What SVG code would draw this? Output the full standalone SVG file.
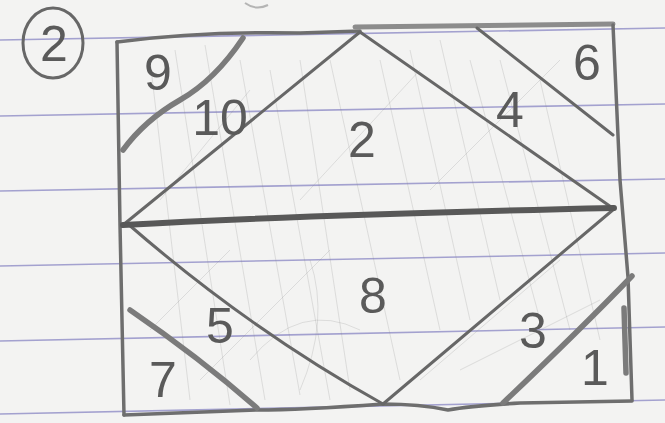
<svg xmlns="http://www.w3.org/2000/svg" width="665" height="423" viewBox="0 0 665 423">
<style>
.rule{stroke:#a3a1cf;stroke-width:1.6;fill:none}
.hatch{stroke:#8a8a8a;stroke-width:1;fill:none;opacity:.22}
.pen{stroke:#676767;stroke-width:3;fill:none;stroke-linecap:round;stroke-linejoin:round}
.edge{stroke:#6e6e6e;stroke-width:3.5;fill:none;stroke-linecap:round;stroke-linejoin:round}
.thick{stroke:#7b7b7b;stroke-width:5.5;fill:none;stroke-linecap:round}
.mid{stroke:#585858;stroke-width:6;fill:none;stroke-linecap:round}
.num{font-family:"Liberation Sans",Arial,sans-serif;font-size:50px;fill:#5a5a5a;text-anchor:middle}
</style>
<rect width="665" height="423" fill="#f3f3f2"/>
<!-- ruled paper lines -->
<g id="paper-lines">
<line class="rule" x1="0" y1="40" x2="665" y2="28"/>
<line class="rule" x1="0" y1="116" x2="665" y2="104"/>
<line class="rule" x1="0" y1="191" x2="665" y2="179"/>
<line class="rule" x1="0" y1="266" x2="665" y2="253"/>
<line class="rule" x1="0" y1="341" x2="665" y2="327"/>
<line class="rule" x1="0" y1="414" x2="665" y2="400"/>
</g>
<!-- faint pencil hatching -->
<g id="hatching">
<path class="hatch" d="M150,60 L190,400"/>
<path class="hatch" d="M175,50 L230,405"/>
<path class="hatch" d="M205,45 L265,400"/>
<path class="hatch" d="M240,60 L300,395"/>
<path class="hatch" d="M270,70 L330,400"/>
<path class="hatch" d="M300,60 L350,390"/>
<path class="hatch" d="M330,60 L400,380"/>
<path class="hatch" d="M380,60 L440,330"/>
<path class="hatch" d="M410,50 L470,320"/>
<path class="hatch" d="M440,40 L500,300"/>
<path class="hatch" d="M470,60 L540,320"/>
<path class="hatch" d="M500,60 L570,330"/>
<path class="hatch" d="M540,80 L600,340"/>
<path class="hatch" d="M430,190 L560,60"/>
<path class="hatch" d="M300,200 L420,70"/>
<path class="hatch" d="M160,200 L250,90"/>
<path class="hatch" d="M200,380 L330,250"/>
<path class="hatch" d="M420,380 L560,260"/>
<path class="hatch" d="M460,370 L600,300"/>
<path class="hatch" d="M250,360 Q300,300 360,330"/>
<path class="hatch" d="M300,390 Q330,320 310,260"/>
<path class="hatch" d="M150,330 L230,250"/>
</g>
<!-- circled number -->
<g id="circled-2">
<ellipse cx="53" cy="43" rx="30" ry="35" class="pen" stroke="#6a6a6a"/>
<text class="num" x="54" y="61" font-size="46">2</text>
</g>
<path class="hatch" d="M245,3 Q256,11 268,5" style="opacity:.6;stroke-width:2"/>
<!-- outer box -->
<g id="box">
<path class="edge" d="M117,42 Q200,31 300,33 L360,31"/>
<path d="M355,27 L613,24" stroke="#8c8c8c" stroke-width="5" fill="none" stroke-linecap="round"/>
<path class="edge" d="M613,25 L620,180 L628,277 L632,400"/>
<path class="edge" d="M632,401 L520,403 Q470,406 448,410 Q420,404 383,404 Q300,410 257,410 L124,415"/>
<path class="edge" d="M117,42 L120,225 L124,415"/>
<path class="thick" d="M624,308 L626,373" stroke-width="4"/>
</g>
<!-- diamond and piece lines -->
<g id="connectors">
<path class="pen" d="M123,225 L360,32 L614,209"/>
<path class="pen" d="M614,209 L383,404"/>
<path class="pen" d="M128,224 Q250,330 383,404"/>
<path class="mid" d="M123,225 Q300,215 614,208"/>
<path class="pen" d="M477,28 L613,135"/>
<path class="thick" d="M243,38 Q215,80 180,100 T123,150"/>
<path class="thick" d="M130,310 Q200,358 257,408"/>
<path class="thick" d="M632,276 Q580,330 503,403"/>
</g>
<!-- labels -->
<g id="n9"><text class="num" x="158" y="90">9</text></g>
<g id="n10"><text class="num" x="220" y="135">10</text></g>
<g id="n2"><text class="num" x="362" y="157" font-size="56">2</text></g>
<g id="n4"><text class="num" x="510" y="127">4</text></g>
<g id="n6"><text class="num" x="587" y="80" font-size="54">6</text></g>
<g id="n8"><text class="num" x="373" y="313" font-size="64">8</text></g>
<g id="n5"><text class="num" x="220" y="343" font-size="46">5</text></g>
<g id="n7"><text class="num" x="163" y="397" font-size="46">7</text></g>
<g id="n3"><text class="num" x="533" y="348" font-size="54">3</text></g>
<g id="n1"><text class="num" x="595" y="385">1</text></g>
</svg>
